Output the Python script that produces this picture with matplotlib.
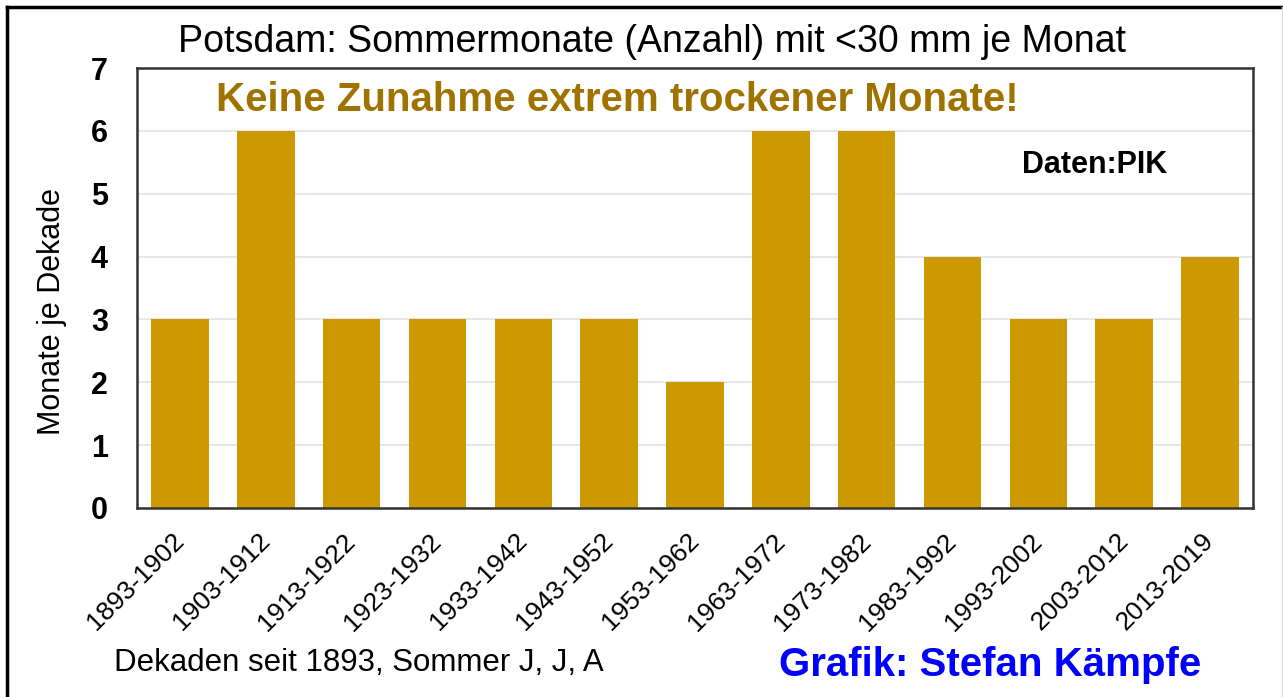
import numpy as np
import matplotlib.pyplot as plt
import matplotlib.transforms as mtransforms
from matplotlib.lines import Line2D

plt.rcParams['font.family'] = ['Liberation Sans', 'DejaVu Sans']

decades = ['1893-1902', '1903-1912', '1913-1922', '1923-1932', '1933-1942',
           '1943-1952', '1953-1962', '1963-1972', '1973-1982', '1983-1992',
           '1993-2002', '2003-2012', '2013-2019']
months = [3, 6, 3, 3, 3, 3, 2, 6, 6, 4, 3, 3, 4]
yticks = [0, 1, 2, 3, 4, 5, 6, 7]

fig = plt.figure(figsize=(12.83, 6.97), dpi=100)
ax = fig.add_axes([0.1068, 0.2712, 0.8698, 0.6312])

x = np.arange(len(decades))
ax.bar(x, months, width=0.67, color='#CC9900', zorder=2)
ax.set_xlim(-0.5, len(decades) - 0.5)
ax.set_ylim(0, 7)
ax.yaxis.grid(True, color='#E3E3E3', lw=1.2, zorder=0)
ax.tick_params(axis='y', length=0, pad=21)
ax.tick_params(axis='x', length=0, pad=15)
ax.set_yticks(yticks, [str(v) for v in yticks], fontsize=22, fontweight='bold')
ax.set_xticks(x, decades, rotation=45, ha='right', rotation_mode='anchor', fontsize=19)

# nudge the slanted labels a little to the left
offset = mtransforms.ScaledTranslation(-6 / 72, 0, fig.dpi_scale_trans)
for lab in ax.get_xticklabels():
    lab.set_transform(lab.get_transform() + offset)

for s in ax.spines.values():
    s.set_linewidth(1.8)
    s.set_color('#333333')

fig.text(52 / 1283, 1 - 311 / 697, 'Monate je Dekade', rotation=90,
         ha='center', va='center', fontsize=22)
fig.text(0.508, 0.94, 'Potsdam: Sommermonate (Anzahl) mit <30 mm je Monat',
         ha='center', va='center', fontsize=27)
ax.text(0.43, 0.927, 'Keine Zunahme extrem trockener Monate!', transform=ax.transAxes,
        ha='center', va='center', fontsize=29, fontweight='bold', color='#A07300')
ax.text(0.858, 0.78, 'Daten:PIK', transform=ax.transAxes,
        ha='center', va='center', fontsize=22, fontweight='bold')
fig.text(0.28, 0.049, 'Dekaden seit 1893, Sommer J, J, A', ha='center', va='center', fontsize=22.5)
fig.text(0.772, 0.046, 'Grafik: Stefan Kämpfe', ha='center', va='center',
         fontsize=29, fontweight='bold', color='#0000FF')

# outer frame: dark on top/left, faint on right
fig.add_artist(Line2D([0.0055, 0.0055], [0.0, 0.99], transform=fig.transFigure, color='black', lw=2.5))
fig.add_artist(Line2D([0.0055, 1.0], [0.99, 0.99], transform=fig.transFigure, color='black', lw=2.5))
fig.add_artist(Line2D([0.9995, 0.9995], [0.0, 0.99], transform=fig.transFigure, color='#DDDDDD', lw=1))
fig.savefig('out.png', dpi=100)
